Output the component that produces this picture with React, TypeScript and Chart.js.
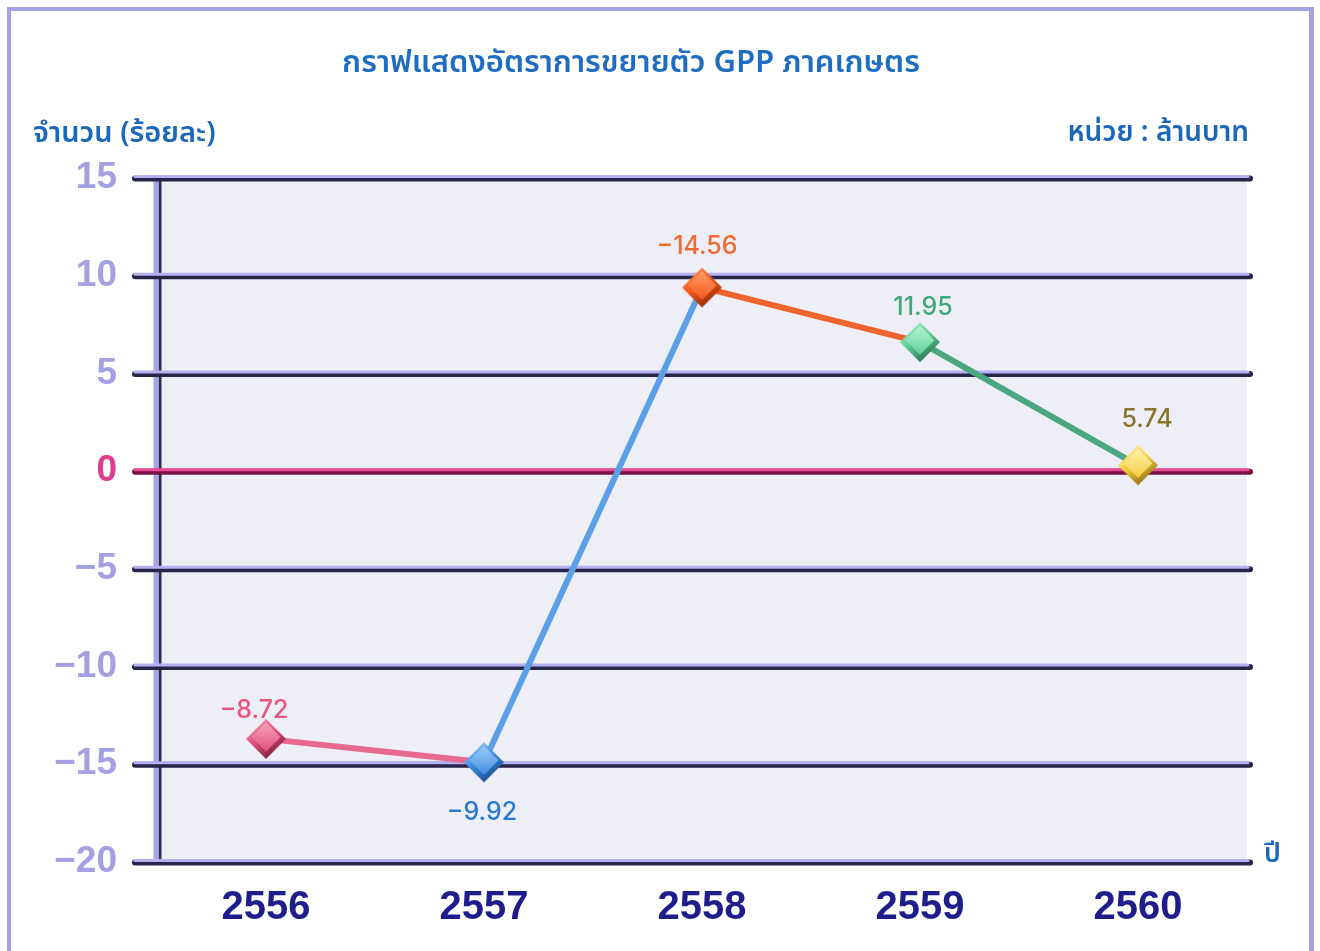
import React, { useEffect, useRef } from "react";
import { Chart, registerables } from "chart.js";

Chart.register(...registerables);

// ---- data ----
const years = ["2556", "2557", "2558", "2559", "2560"];
const growth = [-13.7, -14.9, 9.4, 6.6, 0.3];
const valueLabels = ["-8.72", "-9.92", "-14.56", "11.95", "5.74"];
const yMin = -20;
const yMax = 15;
const yStep = 5;

const titleText = "กราฟแสดงอัตราการขยายตัว GPP ภาคเกษตร";
const yTitleText = "จำนวน (ร้อยละ)";
const unitText = "หน่วย : ล้านบาท";
const xTitleText = "ปี";

// ---- styles ----
const markerBase = ["#e04f7c", "#3a8be0", "#f0561a", "#5ccd97", "#f3cd3c"];
const markerLight = ["#f59cb8", "#98c8f6", "#ff9660", "#aef2d0", "#fff0a4"];
const markerDark = ["#6e1534", "#143e76", "#822400", "#245f43", "#7f600c"];
const lineColors = ["#e8698f", "#5b9fe6", "#f0652c", "#4aa77f"];
const labelColors = ["#e8557f", "#2c78cf", "#f26a32", "#3ea97a", "#86752a"];
const labelDx = [-12, -2, -5, 3, 9];
const labelDy = [-28, 50, -41, -35, -46];

function makeMarker(i: number): HTMLCanvasElement {
  const c = document.createElement("canvas");
  const s = 46;
  c.width = s;
  c.height = s;
  const g = c.getContext("2d")!;
  const cx = s / 2, cy = s / 2, r = 20;
  g.beginPath();
  g.moveTo(cx, cy - r);
  g.lineTo(cx + r, cy);
  g.lineTo(cx, cy + r);
  g.lineTo(cx - r, cy);
  g.closePath();
  const grad = g.createLinearGradient(cx - r * 0.6, cy - r, cx + r * 0.6, cy + r);
  grad.addColorStop(0, markerLight[i]);
  grad.addColorStop(0.45, markerBase[i]);
  grad.addColorStop(1, markerDark[i]);
  g.fillStyle = grad;
  g.fill();
  const r2 = r * 0.72;
  g.beginPath();
  g.moveTo(cx, cy - r2 - 2);
  g.lineTo(cx + r2, cy - 2);
  g.lineTo(cx, cy + r2 - 2);
  g.lineTo(cx - r2, cy - 2);
  g.closePath();
  const grad2 = g.createLinearGradient(cx, cy - r2, cx, cy + r2);
  grad2.addColorStop(0, markerLight[i]);
  grad2.addColorStop(1, markerBase[i]);
  g.fillStyle = grad2;
  g.fill();
  return c;
}

function drawBar(
  ctx: CanvasRenderingContext2D,
  x1: number,
  x2: number,
  y: number,
  light: string,
  dark: string
) {
  ctx.save();
  ctx.lineCap = "round";
  ctx.strokeStyle = dark;
  ctx.lineWidth = 6;
  ctx.beginPath();
  ctx.moveTo(x1, y + 0.5);
  ctx.lineTo(x2, y + 0.5);
  ctx.stroke();
  ctx.strokeStyle = light;
  ctx.lineWidth = 3;
  ctx.beginPath();
  ctx.moveTo(x1, y - 1.5);
  ctx.lineTo(x2 - 2, y - 1.5);
  ctx.stroke();
  ctx.restore();
}

const decorPlugin = {
  id: "decor",
  beforeDatasetsDraw(chart: any) {
    const { ctx, chartArea } = chart;
    const ys = chart.scales.y;
    ctx.save();
    ctx.fillStyle = "#eeeef7";
    ctx.fillRect(chartArea.left + 4, chartArea.top, chartArea.right - chartArea.left - 4, chartArea.bottom - chartArea.top);
    ctx.lineCap = "butt";
    ctx.strokeStyle = "#2d2b4e";
    ctx.lineWidth = 3;
    ctx.beginPath();
    ctx.moveTo(chartArea.left + 3, chartArea.top);
    ctx.lineTo(chartArea.left + 3, chartArea.bottom - 3);
    ctx.stroke();
    ctx.strokeStyle = "#a7a5e6";
    ctx.lineWidth = 5;
    ctx.beginPath();
    ctx.moveTo(chartArea.left - 1, chartArea.top);
    ctx.lineTo(chartArea.left - 1, chartArea.bottom - 3);
    ctx.stroke();
    ctx.restore();
    for (let v = yMin; v <= yMax; v += yStep) {
      const y = ys.getPixelForValue(v);
      if (v === 0) {
        drawBar(ctx, chartArea.left - 22, chartArea.right + 3, y, "#ea4c93", "#7a0f44");
      } else {
        drawBar(ctx, chartArea.left - 22, chartArea.right + 3, y, "#b3b1ef", "#27254a");
      }
    }
  },
  afterDatasetsDraw(chart: any) {
    const { ctx } = chart;
    const meta = chart.getDatasetMeta(0);
    ctx.save();
    ctx.font = "500 25px Inter, 'Open Sans', sans-serif";
    ctx.textAlign = "center";
    ctx.textBaseline = "middle";
    meta.data.forEach((pt: any, i: number) => {
      ctx.fillStyle = labelColors[i];
      ctx.fillText(valueLabels[i].replace("-", "\u2212"), pt.x + labelDx[i], pt.y + labelDy[i]);
    });
    ctx.restore();
  },
};

export default function App() {
  const ref = useRef<HTMLCanvasElement | null>(null);
  useEffect(() => {
    if (!ref.current) return;
    const markers = years.map((_, i) => makeMarker(i));
    const chart = new Chart(ref.current, {
      type: "line",
      data: {
        labels: years,
        datasets: [
          {
            data: growth,
            borderWidth: 6,
            borderColor: lineColors[0],
            segment: {
              borderColor: (c: any) => lineColors[c.p0DataIndex],
            },
            pointStyle: markers as any,
            pointRadius: 20,
            tension: 0,
            fill: false,
          },
        ],
      },
      options: {
        responsive: false,
        animation: false,
        events: [],
        layout: { padding: { top: 178, right: 73, bottom: 0, left: 0 } },
        plugins: {
          legend: { display: false },
          title: { display: false },
          tooltip: { enabled: false },
        },
        scales: {
          x: {
            type: "category",
            offset: true,
            grid: { display: false, drawTicks: false },
            border: { display: false },
            ticks: {
              color: "#1f1c8c",
              font: { family: "'Liberation Sans', Arial, sans-serif", size: 40, weight: "bold" },
              padding: 22,
              maxRotation: 0,
            },
            afterFit: (s: any) => {
              s.height = 89;
            },
          },
          y: {
            min: yMin,
            max: yMax,
            grid: { display: false, drawTicks: false },
            border: { display: false },
            ticks: {
              stepSize: yStep,
              padding: 40,
              color: (c: any) => (c.tick && c.tick.value === 0 ? "#e23a8c" : "#a3a1e2"),
              font: { family: "'Liberation Sans', Arial, sans-serif", size: 37, weight: "bold" },
              callback: (v: any) => String(v).replace("-", "\u2212"),
            },
            afterFit: (s: any) => {
              s.width = 157;
            },
          },
        },
      },
      plugins: [decorPlugin],
    });
    return () => chart.destroy();
  }, []);

  const thai = "'Noto Sans Thai', 'Noto Sans Thai Looped', 'Kanit', 'Prompt', 'Noto Sans', 'DejaVu Sans', sans-serif";
  return (
    <div style={{ position: "fixed", left: 0, top: 0, width: 1320, height: 951, background: "#ffffff", overflow: "hidden" }}>
      <div
        style={{
          position: "absolute",
          left: 7,
          top: 7,
          width: 1298,
          height: 1000,
          borderTop: "4px solid #a4a2e4",
          borderLeft: "4px solid #a4a2e4",
          borderRight: "5px solid #a4a2e4",
        }}
      />
      <canvas ref={ref} width={1320} height={951} style={{ position: "absolute", left: 0, top: 0 }} />
      <div
        style={{
          position: "absolute",
          left: 0,
          width: 1262,
          top: 40,
          textAlign: "center",
          fontFamily: thai,
          fontWeight: 600,
          fontSize: 31,
          lineHeight: "46px",
          color: "#1f6dc0",
          whiteSpace: "nowrap",
        }}
      >
        {titleText}
      </div>
      <div
        style={{
          position: "absolute",
          left: 33,
          top: 112,
          fontFamily: thai,
          fontWeight: 600,
          fontSize: 29,
          lineHeight: "42px",
          color: "#1b68b9",
          whiteSpace: "nowrap",
        }}
      >
        {yTitleText}
      </div>
      <div
        style={{
          position: "absolute",
          right: 1320 - 1249,
          top: 112,
          fontFamily: thai,
          fontWeight: 600,
          fontSize: 28,
          lineHeight: "42px",
          color: "#1b68b9",
          whiteSpace: "nowrap",
        }}
      >
        {unitText}
      </div>
      <div
        style={{
          position: "absolute",
          left: 1264,
          top: 834,
          fontFamily: thai,
          fontWeight: 600,
          fontSize: 27,
          lineHeight: "40px",
          color: "#1b68b9",
        }}
      >
        {xTitleText}
      </div>
    </div>
  );
}
